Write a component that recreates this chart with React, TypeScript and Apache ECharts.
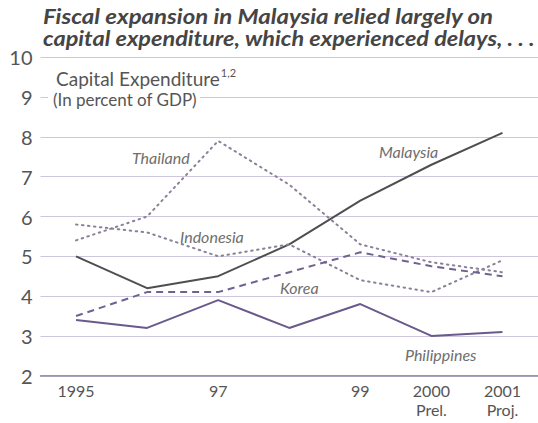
import React, { useEffect, useRef } from "react";
import * as echarts from "echarts";

const categories = ["1995", "1996", "1997", "1998", "1999", "2000", "2001"];
const tickLabels = ["1995", "", "97", "", "99", "2000\nPrel.", "2001\nProj."];
const malaysia = [5.0, 4.2, 4.5, 5.3, 6.4, 7.3, 8.1];
const thailand = [5.4, 6.0, 7.9, 6.8, 5.3, 4.85, 4.6];
const indonesia = [5.8, 5.6, 5.0, 5.3, 4.4, 4.1, 4.9];
const korea = [3.5, 4.1, 4.1, 4.6, 5.1, 4.75, 4.5];
const philippines = [3.4, 3.2, 3.9, 3.2, 3.8, 3.0, 3.1];
const titleLines = [
  "Fiscal expansion in Malaysia relied largely on",
  "capital expenditure, which experienced delays, . . .",
];

const FONT = "Lato, 'Open Sans', sans-serif";

function measure(text: string, font: string): number {
  const c = document.createElement("canvas").getContext("2d");
  if (!c) return text.length * 9;
  c.font = font;
  return c.measureText(text).width;
}

export default function App() {
  const ref = useRef<HTMLDivElement>(null);
  useEffect(() => {
    if (!ref.current) return;
    const chart = echarts.init(ref.current, undefined, { renderer: "svg" });
    const labelStyle = (x: number, y: number, text: string) => ({
      type: "text",
      x,
      y,
      z: 100,
      style: {
        text,
        font: `italic 16px ${FONT}`,
        fill: "#6e6e6e",
        verticalAlign: "middle",
      },
    });
    const capFont = `19px ${FONT}`;
    const capW = measure("Capital Expenditure", capFont);
    const titleFont = `italic bold 21.5px ${FONT}`;
    const titleW = measure(titleLines[0], titleFont);
    const titleScale = titleW > 0 ? 451 / titleW : 1;
    const title2W = measure(titleLines[1], titleFont);
    const titleScale2 = title2W > 0 ? Math.min(titleScale, 492 / title2W) : 1;
    chart.setOption({
      animation: false,
      backgroundColor: "#ffffff",
      textStyle: { fontFamily: FONT },
      grid: { left: 40.5, right: -1.5, top: 57.3, bottom: 47.3 },
      xAxis: {
        type: "category",
        data: categories,
        boundaryGap: true,
        axisLine: { lineStyle: { color: "#8a80a6", width: 1.5 } },
        axisTick: { inside: true, length: 7, lineStyle: { color: "#8a80a6", width: 1.2 } },
        axisLabel: {
          interval: 0,
          margin: 5,
          fontSize: 16,
          lineHeight: 19,
          color: "#555555",
          fontFamily: FONT,
          formatter: (_v: string, i: number) => tickLabels[i],
        },
      },
      yAxis: {
        type: "value",
        min: 2,
        max: 10,
        interval: 1,
        axisLine: { show: false },
        axisTick: { show: false },
        axisLabel: { fontSize: 20, color: "#555555", margin: 8, fontFamily: FONT },
        splitLine: { lineStyle: { color: "#cdc6dc", width: 1.2 } },
      },
      series: [
        {
          name: "Malaysia",
          type: "line",
          data: malaysia,
          symbol: "none",
          lineStyle: { color: "#4f4f4f", width: 2 },
        },
        {
          name: "Thailand",
          type: "line",
          data: thailand,
          symbol: "none",
          lineStyle: { color: "#8a8198", width: 2, type: [1.5, 4.5], cap: "round" },
        },
        {
          name: "Indonesia",
          type: "line",
          data: indonesia,
          symbol: "none",
          lineStyle: { color: "#8a8198", width: 2, type: [1.5, 4.5], cap: "round" },
        },
        {
          name: "Korea",
          type: "line",
          data: korea,
          symbol: "none",
          lineStyle: { color: "#6d6290", width: 2, type: [7, 5] },
        },
        {
          name: "Philippines",
          type: "line",
          data: philippines,
          symbol: "none",
          lineStyle: { color: "#6a5a8c", width: 2 },
        },
      ],
      graphic: [
        {
          type: "text",
          x: 43,
          y: 16,
          scaleX: titleScale,
          z: 100,
          style: { text: titleLines[0], font: titleFont, fill: "#454545", verticalAlign: "middle" },
        },
        {
          type: "text",
          x: 43,
          y: 38,
          scaleX: titleScale2,
          z: 100,
          style: { text: titleLines[1], font: titleFont, fill: "#454545", verticalAlign: "middle" },
        },
        {
          type: "rect",
          shape: { x: 48, y: 89, width: 152, height: 17 },
          style: { fill: "#ffffff" },
          z: 50,
        },
        {
          type: "text",
          x: 56,
          y: 78,
          z: 100,
          style: {
            text: "Capital Expenditure",
            font: capFont,
            fill: "#555555",
            verticalAlign: "middle",
          },
        },
        {
          type: "text",
          x: 56 + capW + 1,
          y: 72,
          z: 100,
          style: {
            text: "1,2",
            font: `11px ${FONT}`,
            fill: "#555555",
            verticalAlign: "middle",
          },
        },
        {
          type: "text",
          x: 53,
          y: 99,
          z: 100,
          style: {
            text: "(In percent of GDP)",
            font: `17px ${FONT}`,
            fill: "#555555",
            verticalAlign: "middle",
          },
        },
        labelStyle(132, 157, "Thailand"),
        labelStyle(379, 151, "Malaysia"),
        labelStyle(180, 236, "Indonesia"),
        labelStyle(280, 287, "Korea"),
        labelStyle(405, 354, "Philippines"),
      ],
    });
    return () => chart.dispose();
  }, []);
  return (
    <div
      ref={ref}
      style={{ position: "fixed", left: 0, top: 0, width: 538, height: 423, background: "#fff" }}
    />
  );
}
